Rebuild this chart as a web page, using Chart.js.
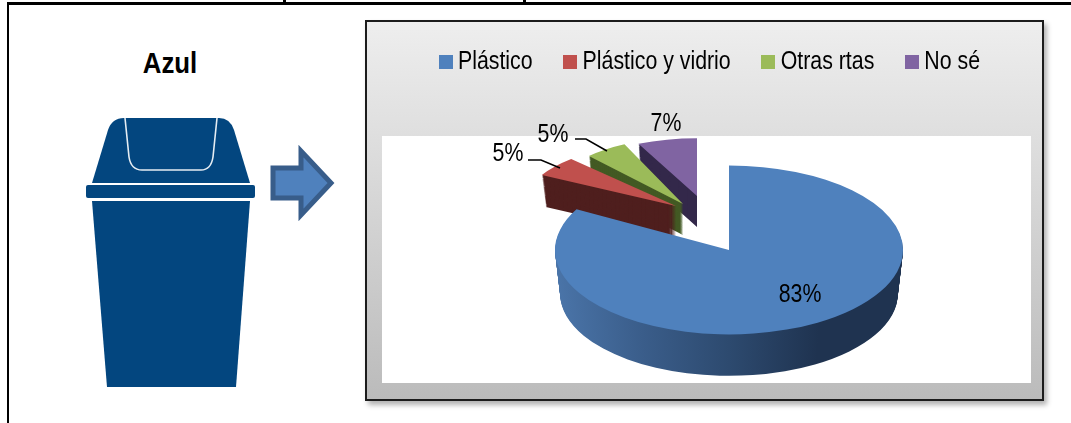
<!DOCTYPE html>
<html lang="es">
<head>
<meta charset="utf-8">
<title>Azul</title>
<script src="https://cdn.jsdelivr.net/npm/chart.js@4"></script>
<style>
  html, body { margin: 0; padding: 0; background: #fff; width: 1071px; height: 423px; overflow: hidden; }
  .frame { position: absolute; left: 7px; top: 2px; width: 1064px; height: 421px; border-left: 2px solid #000; border-top: 3px solid #000; box-sizing: border-box; }
  .panel { position: absolute; left: 365px; top: 20px; width: 679px; height: 381px; box-sizing: border-box;
    border: 2px solid #1c1c1c; background: linear-gradient(#eeeeee, #bbbbbb); box-shadow: 3px 4px 5px rgba(0,0,0,.3); }
  .plot { position: absolute; left: 382px; top: 136px; width: 649px; height: 247px; background: #fff; }
  .title { position: absolute; left: 100px; top: 46px; width: 140px; text-align: center; color: #000;
    font: bold 30px "Liberation Sans", sans-serif; transform: scaleX(0.86); }
  svg.art { position: absolute; left: 0; top: 0; }
  canvas { position: absolute; left: 0; top: 0; }
</style>
</head>
<body>
<div class="frame"></div>
<div class="panel"></div>
<div class="plot"></div>
<div class="title">Azul</div>
<svg class="art" width="1071" height="423">
  <rect x="283" y="0" width="3" height="2" fill="#000"/>
  <rect x="523" y="0" width="3" height="2" fill="#000"/>
  <!-- bin -->
  <path d="M92 183 L108 130 Q112 118 124 118 L219 118 Q230 118 234 130 L250 183 Z" fill="#03467f"/>
  <path d="M125 118 L129 157 Q131 170 142 170 L201 170 Q211 170 213 157 L217 118" fill="none" stroke="#e6edf3" stroke-width="1.6"/>
  <rect x="86" y="185" width="169" height="13" rx="2" fill="#03467f"/>
  <path d="M92 201 L250 201 L236 387 L107 387 Z" fill="#03467f"/>
  <!-- arrow -->
  <path d="M273 168 L301 168 L301 151 L331 183 L301 215 L301 198 L273 198 Z" fill="#4f81bd" stroke="#385d8a" stroke-width="5"/>
</svg>
<canvas id="chart" width="1071" height="423"></canvas>
<script>
const categories = ['Plástico', 'Plástico y vidrio', 'Otras rtas', 'No sé'];
const percentValues = [83, 5, 5, 7];
const sliceColors = ['#4f81bd', '#c0504d', '#9bbb59', '#8064a2'];
const sideColors = [null, '#4f1f1e', '#435a24', '#33284a'];

// look of the tilted pie, the exploded slices sit further back so they are smaller
const pieCx = 729, pieCy = 250;
const sliceTilt = [0.485, 0.42, 0.48, 0.42];
const sliceScale = [1, 0.88, 0.79, 0.79];
const sliceShiftX = [0, -53, -46, -32];
const sliceShiftY = [0, -44, -46, -54];
const sliceDepth = [44, 31, 31, 31];

// the reference text is condensed and no narrow font is installed
const textSqueeze = 0.82;
const legendCx = 712;

// where the percent labels go, measured from the pie centre
const labelDx = [71, -221, -176, -63];
const labelDy = [45, -96, -115, -126];
const leaders = [
  null,
  [[-201, -90], [-188, -90], [-169, -82]],
  [[-154, -111], [-143, -111], [-122, -99]],
  null
];

function legendSwatch(color) {
  const c = document.createElement('canvas');
  c.width = 17;
  c.height = 14;
  const g = c.getContext('2d');
  g.fillStyle = color;
  g.fillRect(0, 0, c.width, c.height);
  return c;
}

function placeSlice(ctx, arc, i, drop, shrink) {
  const s = sliceScale[i] * shrink;
  ctx.translate(pieCx + sliceShiftX[i], pieCy + sliceShiftY[i] + drop);
  ctx.scale(s, s * sliceTilt[i]);
  ctx.translate(-arc.x, -arc.y);
}

function drawSlice(ctx, chart, i) {
  const arc = chart.getDatasetMeta(0).data[i];
  const saved = arc.options;
  const depth = sliceDepth[i];

  // Side wall: stack darker copies of the slice going down
  let side = sideColors[i];
  if (i === 0) {
    side = ctx.createLinearGradient(arc.x - arc.outerRadius, 0, arc.x + arc.outerRadius, 0);
    side.addColorStop(0, '#4a74a8');
    side.addColorStop(0.25, '#3a5d8a');
    side.addColorStop(0.5, '#2d4a6f');
    side.addColorStop(0.76, '#1f3350');
    side.addColorStop(1, '#1f3350');
  }
  for (let t = depth; t > 0; t--) {
    ctx.save();
    placeSlice(ctx, arc, i, t, 1 - 0.03 * t / depth);
    arc.options = Object.assign({}, saved, { backgroundColor: side });
    arc.draw(ctx);
    ctx.restore();
  }

  ctx.save();
  placeSlice(ctx, arc, i, 0, 1);
  arc.options = saved;
  arc.draw(ctx);
  ctx.restore();
}

const tiltedPie = {
  id: 'tiltedPie',
  afterLayout(chart) {
    // Squeeze the legend sideways when it draws and move it over the panel
    if (chart.legend.squeezed) return;
    chart.legend.squeezed = true;
    const legend = chart.legend;
    const drawLegend = legend.draw.bind(legend);
    legend.draw = function () {
      const ctx = chart.ctx;
      ctx.save();
      ctx.translate(legendCx, 0);
      ctx.scale(textSqueeze, 1);
      ctx.translate(-(legend.left + legend.right) / 2, 0);
      drawLegend();
      ctx.restore();
    };
  },
  beforeDatasetsDraw(chart) {
    const ctx = chart.ctx;
    // back slices first, the big one covers them
    for (let i = categories.length - 1; i >= 0; i--) {
      drawSlice(ctx, chart, i);
    }
    return false;
  },
  afterDraw(chart) {
    const ctx = chart.ctx;
    ctx.save();
    ctx.fillStyle = '#000';
    ctx.strokeStyle = '#000';
    ctx.lineWidth = 1.5;
    ctx.font = '26px "Liberation Sans", sans-serif';
    ctx.textAlign = 'center';
    ctx.textBaseline = 'middle';
    percentValues.forEach((v, i) => {
      ctx.save();
      ctx.translate(pieCx + labelDx[i], pieCy + labelDy[i]);
      ctx.scale(textSqueeze, 1);
      ctx.fillText(v + '%', 0, 0);
      ctx.restore();
      if (leaders[i]) {
        ctx.beginPath();
        leaders[i].forEach((p, j) => {
          if (j === 0) ctx.moveTo(pieCx + p[0], pieCy + p[1]);
          else ctx.lineTo(pieCx + p[0], pieCy + p[1]);
        });
        ctx.stroke();
      }
    });
    ctx.restore();
  }
};

new Chart(document.getElementById('chart').getContext('2d'), {
  type: 'pie',
  data: {
    labels: categories,
    datasets: [{
      data: percentValues,
      backgroundColor: sliceColors,
      borderWidth: 0,
      hoverOffset: 0,
      clip: false
    }]
  },
  options: {
    responsive: false,
    animation: false,
    radius: 174,
    layout: { padding: { top: 5 } },
    plugins: {
      tooltip: { enabled: false },
      legend: {
        position: 'top',
        labels: {
          usePointStyle: true,
          boxWidth: 4,
          boxHeight: 14,
          padding: 44,
          color: '#000',
          font: { family: '"Liberation Sans", sans-serif', size: 26 },
          generateLabels(chart) {
            const items = Chart.overrides.pie.plugins.legend.labels.generateLabels(chart);
            return items.map((item, i) => Object.assign(item, { pointStyle: legendSwatch(sliceColors[i]) }));
          }
        }
      }
    }
  },
  plugins: [tiltedPie]
});
</script>
</body>
</html>
